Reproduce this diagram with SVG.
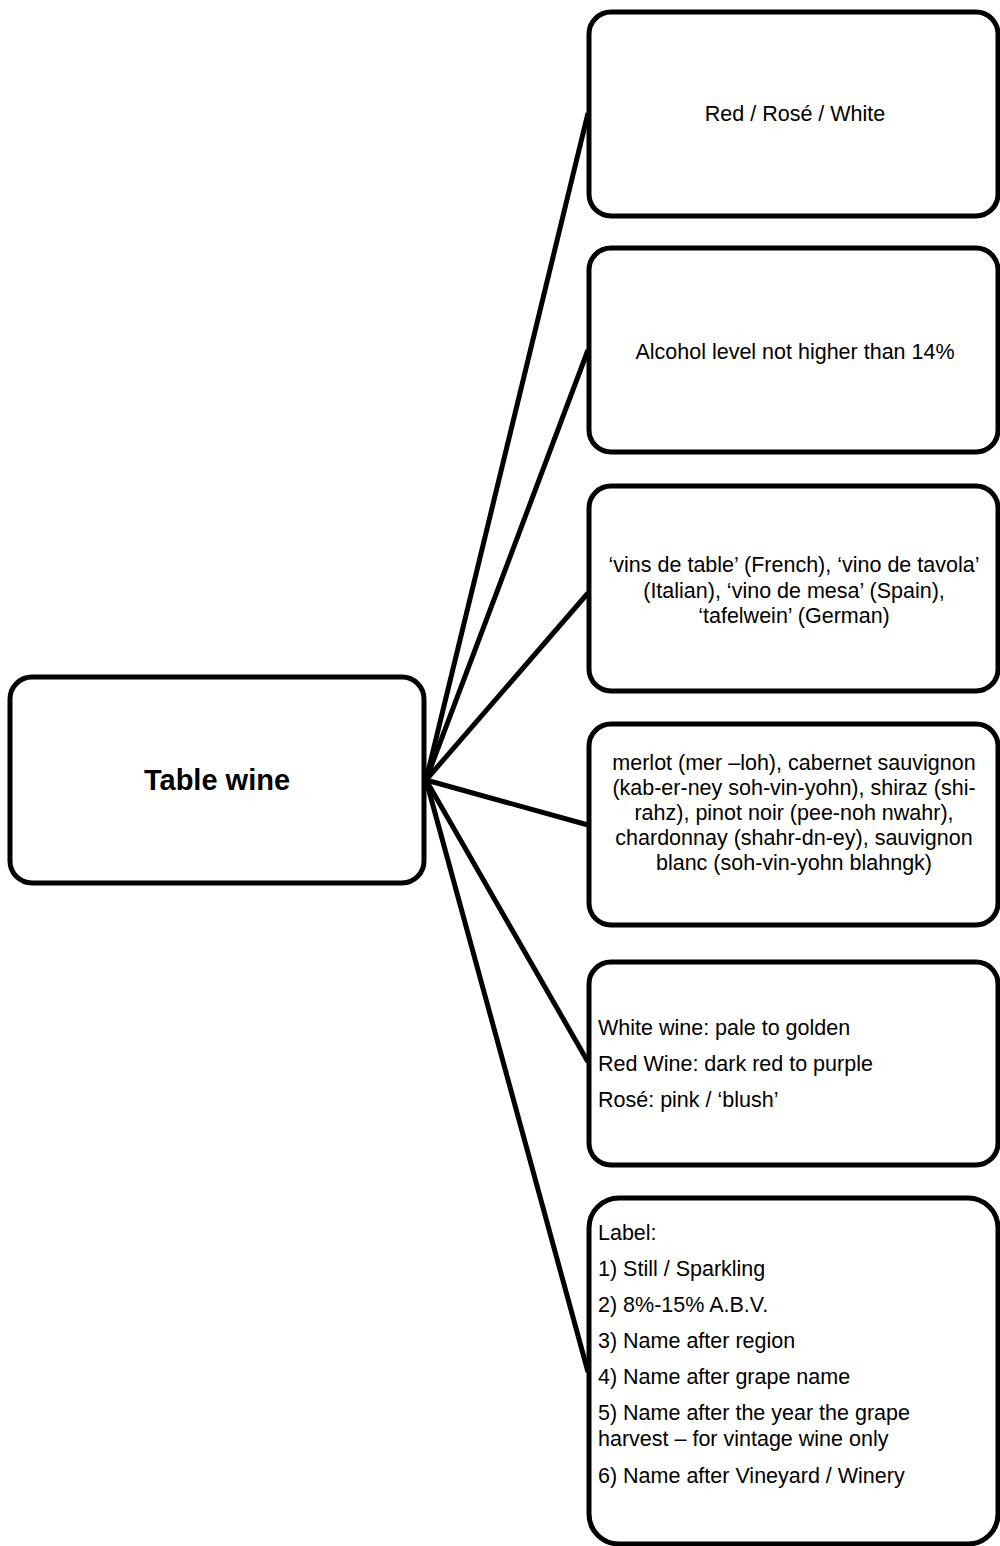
<svg xmlns="http://www.w3.org/2000/svg" width="1000" height="1546" viewBox="0 0 1000 1546">
<style>
.box{fill:#fff;stroke:#000;stroke-width:5}
.t{font-family:"Liberation Sans",Arial,sans-serif;font-size:21.5px;fill:#000}
.c{text-anchor:middle}
.b{font-weight:bold;font-size:29px}
.conn line{stroke:#000;stroke-width:5;stroke-linecap:butt}
</style>
<rect width="1000" height="1546" fill="#fff"/>
<g class="conn" id="connectors">
<line x1="426" y1="780" x2="588" y2="113"/>
<line x1="426" y1="780" x2="588" y2="350"/>
<line x1="426" y1="780" x2="588" y2="593"/>
<line x1="426" y1="780" x2="588" y2="825"/>
<line x1="426" y1="780" x2="588" y2="1062"/>
<line x1="426" y1="780" x2="588" y2="1372"/>
</g>
<g id="root">
<rect class="box" x="10" y="677" width="414" height="206" rx="22"/>
<text class="t c b" x="217" y="790">Table wine</text>
</g>
<g id="n1">
<rect class="box" x="589" y="12" width="409" height="204" rx="22"/>
<text class="t c" x="795" y="121">Red / Rosé / White</text>
</g>
<g id="n2">
<rect class="box" x="589" y="248" width="409" height="204" rx="22"/>
<text class="t c" x="795" y="359">Alcohol level not higher than 14%</text>
</g>
<g id="n3">
<rect class="box" x="589" y="486" width="409" height="205" rx="22"/>
<text class="t c" x="794" y="572">‘vins de table’ (French), ‘vino de tavola’</text>
<text class="t c" x="794" y="598">(Italian), ‘vino de mesa’ (Spain),</text>
<text class="t c" x="794" y="623">‘tafelwein’ (German)</text>
</g>
<g id="n4">
<rect class="box" x="589" y="724" width="409" height="201" rx="22"/>
<text class="t c" x="794" y="770">merlot (mer –loh), cabernet sauvignon</text>
<text class="t c" x="794" y="795">(kab-er-ney soh-vin-yohn), shiraz (shi-</text>
<text class="t c" x="794" y="820">rahz), pinot noir (pee-noh nwahr),</text>
<text class="t c" x="794" y="845">chardonnay (shahr-dn-ey), sauvignon</text>
<text class="t c" x="794" y="870">blanc (soh-vin-yohn blahngk)</text>
</g>
<g id="n5">
<rect class="box" x="589" y="962" width="409" height="203" rx="22"/>
<text class="t" x="598" y="1035">White wine: pale to golden</text>
<text class="t" x="598" y="1071">Red Wine: dark red to purple</text>
<text class="t" x="598" y="1107">Rosé: pink / ‘blush’</text>
</g>
<g id="n6">
<rect class="box" x="589" y="1198" width="409" height="346" rx="30"/>
<text class="t" x="598" y="1240">Label:</text>
<text class="t" x="598" y="1276">1) Still / Sparkling</text>
<text class="t" x="598" y="1312">2) 8%-15% A.B.V.</text>
<text class="t" x="598" y="1348">3) Name after region</text>
<text class="t" x="598" y="1384">4) Name after grape name</text>
<text class="t" x="598" y="1420">5) Name after the year the grape</text>
<text class="t" x="598" y="1446">harvest – for vintage wine only</text>
<text class="t" x="598" y="1483">6) Name after Vineyard / Winery</text>
</g>
</svg>
